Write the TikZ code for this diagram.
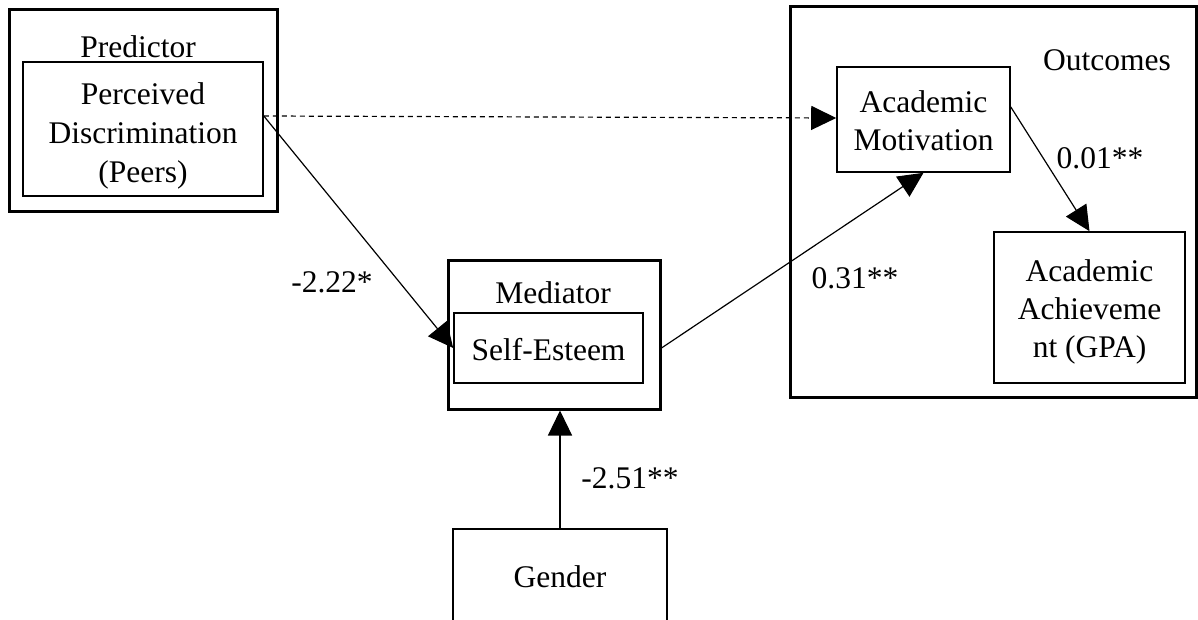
\documentclass[tikz,border=0pt]{standalone}
\usepackage{fontspec}
\setmainfont{Liberation Serif}
\usetikzlibrary{arrows.meta}
\begin{document}
\begin{tikzpicture}[x=1pt,y=-1pt,
  font=\fontsize{31.5}{38}\selectfont,
  outerbox/.style={draw, line width=3pt, inner sep=0pt, anchor=center},
  innerbox/.style={draw, line width=1.6pt, inner sep=0pt, anchor=center},
  conn/.style={line width=1.2pt, -{Triangle[length=25pt,width=24pt]}},
  lbl/.style={inner sep=0pt, anchor=center, align=center}]
\clip (0,0) rectangle (1198,620);
\fill[white] (0,0) rectangle (1198,620);
% outer group boxes
\node[outerbox, minimum width=268pt, minimum height=202pt] (PredBox) at (143,111) {};
\node[outerbox, minimum width=212pt, minimum height=149pt] (MedBox) at (554,334.5) {};
\node[outerbox, minimum width=406pt, minimum height=390pt] (OutBox) at (993,202) {};
% group titles
\node[lbl] (PredT) at (138,47) {Predictor};
\node[lbl] (MedT) at (553,293) {Mediator};
\node[lbl] (OutT) at (1107,60) {Outcomes};
% inner boxes
\node[innerbox, minimum width=240pt, minimum height=134pt] (PD) at (143,129) {};
\node[lbl, font=\fontsize{31.5}{39}\selectfont] (PDT) at (143,136) {Perceived\\Discrimination\\(Peers)};
\node[innerbox, minimum width=189pt, minimum height=70pt] (SE) at (548.5,348) {};
\node[lbl] (SET) at (548.5,350) {Self-Esteem};
\node[innerbox, minimum width=173pt, minimum height=105pt] (AM) at (923.5,119.5) {};
\node[lbl] (AMT) at (923.5,121) {Academic\\Motivation};
\node[innerbox, minimum width=191pt, minimum height=151pt] (AA) at (1089.5,307.5) {};
\node[lbl] (AAT) at (1089.5,312) {Academic\\Achieveme\\nt (GPA)};
\node[innerbox, minimum width=214pt, minimum height=171pt] (Gen) at (560,614.5) {};
\node[lbl] (GenT) at (560,577) {Gender};
% connectors
\draw[conn, dash pattern=on 5pt off 4pt] ([yshift=13pt]PD.east) -- ([yshift=1.5pt]AM.west);
\draw[conn] ([yshift=13pt]PD.east) -- (SE.west);
\draw[conn] (MedBox.east |- SE.east) -- (AM.south);
\draw[conn] ([yshift=12.5pt]AM.east) -- (AA.north);
\draw[conn] (Gen.north) -- (Gen.north |- MedBox.south);
% coefficient labels
\node[lbl] (L1) at (332,282) {-2.22*};
\node[lbl] (L2) at (855,278) {0.31**};
\node[lbl] (L3) at (1100,158) {0.01**};
\node[lbl] (L4) at (630,478) {-2.51**};
\end{tikzpicture}
\end{document}
